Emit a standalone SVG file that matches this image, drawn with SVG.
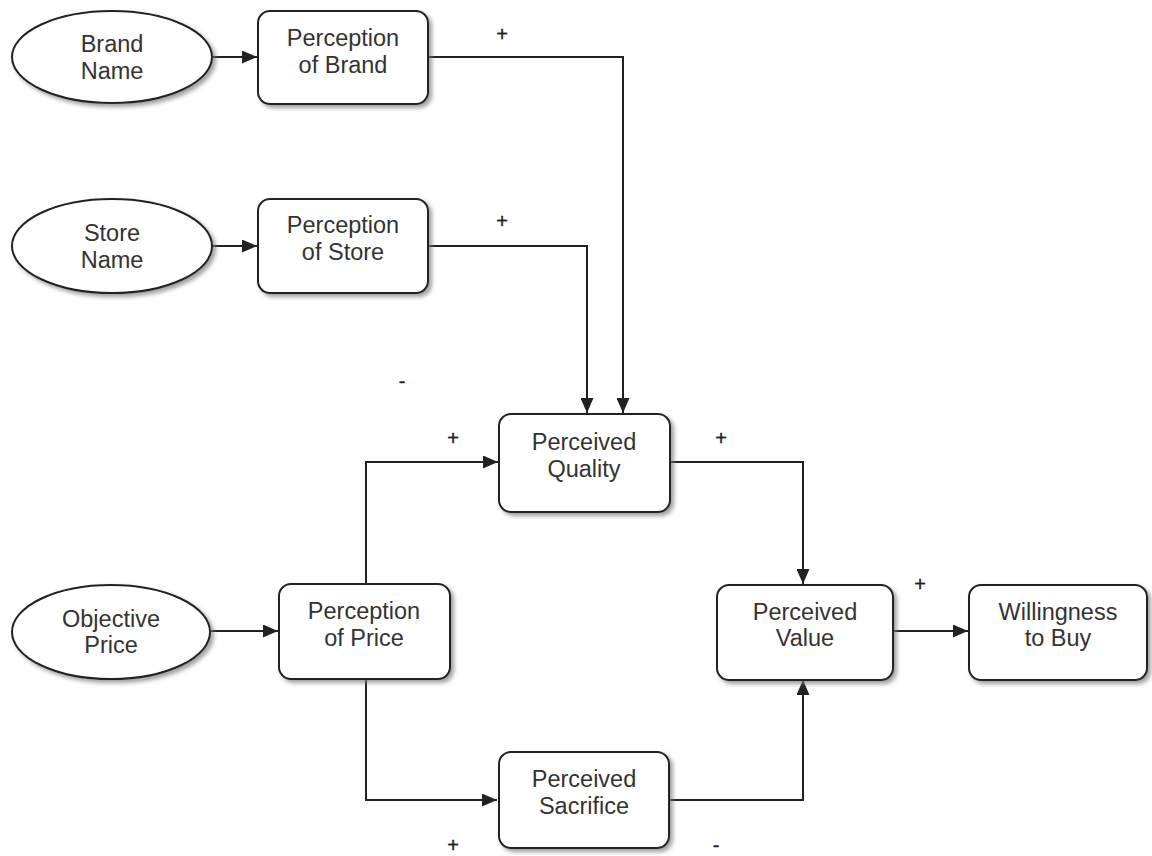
<svg xmlns="http://www.w3.org/2000/svg" width="1152" height="856" viewBox="0 0 1152 856">
  <defs>
    <filter id="shadow" x="-10%" y="-10%" width="125%" height="130%">
      <feDropShadow dx="3" dy="3" stdDeviation="2" flood-color="#777" flood-opacity="0.7"/>
    </filter>
    <marker id="arrow" viewBox="0 0 15 13" refX="15" refY="6.5" markerWidth="15" markerHeight="13" markerUnits="userSpaceOnUse" orient="auto">
      <path d="M0,0 L15,6.5 L0,13 Z" fill="#222"/>
    </marker>
  </defs>
  <style>
    .node { fill: #fff; stroke: #222; stroke-width: 2; filter: url(#shadow); }
    .label { font-family: "Liberation Sans", Arial, sans-serif; font-size: 23.5px; fill: #333; text-anchor: middle; }
    .sign { font-family: "Liberation Sans", Arial, sans-serif; font-size: 20px; fill: #222; stroke: #222; stroke-width: 0.4; text-anchor: middle; }
    .edge { fill: none; stroke: #222; stroke-width: 2; }
  </style>
  <rect width="1152" height="856" fill="#fff"/>

  <g id="connectors">
    <path class="edge" d="M212,57 H257" marker-end="url(#arrow)"/>
    <path class="edge" d="M428,57 H623 V413" marker-end="url(#arrow)"/>
    <path class="edge" d="M212,246 H257" marker-end="url(#arrow)"/>
    <path class="edge" d="M428,246 H587 V413" marker-end="url(#arrow)"/>
    <path class="edge" d="M210,631 H278" marker-end="url(#arrow)"/>
    <path class="edge" d="M366,584 V462 H498" marker-end="url(#arrow)"/>
    <path class="edge" d="M366,678 V800 H497" marker-end="url(#arrow)"/>
    <path class="edge" d="M670,462 H803 V584" marker-end="url(#arrow)"/>
    <path class="edge" d="M669,800 H803 V680" marker-end="url(#arrow)"/>
    <path class="edge" d="M893,631 H968" marker-end="url(#arrow)"/>
  </g>

  <g id="signs">
    <text class="sign" x="502" y="41">+</text>
    <text class="sign" x="502" y="228">+</text>
    <text class="sign" x="402" y="388">-</text>
    <text class="sign" x="453" y="445">+</text>
    <text class="sign" x="721" y="445">+</text>
    <text class="sign" x="920" y="591">+</text>
    <text class="sign" x="453" y="852">+</text>
    <text class="sign" x="716" y="852">-</text>
  </g>

  <g id="brand-name">
    <ellipse class="node" cx="112" cy="57" rx="100" ry="46"/>
    <text class="label" x="112" y="52">Brand</text>
    <text class="label" x="112" y="79">Name</text>
  </g>
  <g id="perception-of-brand">
    <rect class="node" x="258" y="11" width="170" height="93" rx="12"/>
    <text class="label" x="343" y="46">Perception</text>
    <text class="label" x="343" y="73">of Brand</text>
  </g>

  <g id="store-name">
    <ellipse class="node" cx="112" cy="246" rx="100" ry="47"/>
    <text class="label" x="112" y="241">Store</text>
    <text class="label" x="112" y="268">Name</text>
  </g>
  <g id="perception-of-store">
    <rect class="node" x="258" y="199" width="170" height="94" rx="12"/>
    <text class="label" x="343" y="233">Perception</text>
    <text class="label" x="343" y="260">of Store</text>
  </g>

  <g id="perceived-quality">
    <rect class="node" x="499" y="414" width="171" height="98" rx="12"/>
    <text class="label" x="584" y="450">Perceived</text>
    <text class="label" x="584" y="477">Quality</text>
  </g>

  <g id="objective-price">
    <ellipse class="node" cx="111" cy="632" rx="99" ry="47"/>
    <text class="label" x="111" y="627">Objective</text>
    <text class="label" x="111" y="653">Price</text>
  </g>
  <g id="perception-of-price">
    <rect class="node" x="279" y="584" width="171" height="95" rx="12"/>
    <text class="label" x="364" y="619">Perception</text>
    <text class="label" x="364" y="646">of Price</text>
  </g>

  <g id="perceived-sacrifice">
    <rect class="node" x="499" y="752" width="170" height="96" rx="12"/>
    <text class="label" x="584" y="787">Perceived</text>
    <text class="label" x="584" y="814">Sacrifice</text>
  </g>

  <g id="perceived-value">
    <rect class="node" x="717" y="585" width="176" height="95" rx="12"/>
    <text class="label" x="805" y="620">Perceived</text>
    <text class="label" x="805" y="646">Value</text>
  </g>

  <g id="willingness-to-buy">
    <rect class="node" x="969" y="585" width="178" height="95" rx="12"/>
    <text class="label" x="1058" y="620">Willingness</text>
    <text class="label" x="1058" y="646">to Buy</text>
  </g>
</svg>
